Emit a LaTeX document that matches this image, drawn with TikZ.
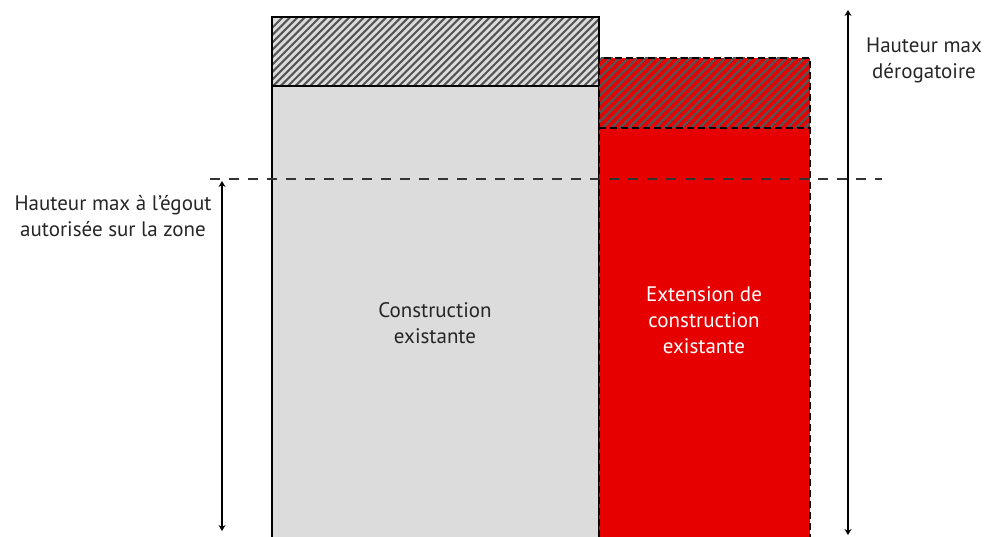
\documentclass[tikz,border=0pt]{standalone}
\usepackage{fontspec}
\setmainfont{PT Sans}
\usetikzlibrary{arrows.meta}
\definecolor{bggrey}{HTML}{DCDCDC}
\definecolor{extred}{HTML}{E60000}
\definecolor{hatchc}{HTML}{555555}
\tikzset{
  lbl/.style={align=center, font=\fontsize{21}{26}\selectfont, text=black!85},
  hatch/.style={draw=hatchc, line width=2.1pt},
  hatchred/.style={draw=hatchc, line width=2.3pt},
  dim/.style={draw=black, line width=1.2pt, {Stealth[length=6pt,width=7pt]}-{Stealth[length=6pt,width=7pt]}},
}
\begin{document}
\begin{tikzpicture}[x=1pt,y=-1pt]
\useasboundingbox (0,0) rectangle (984,537);
% grey building
\fill[bggrey] (272,17) rectangle (599,537);
\begin{scope}
  \clip (272,17) rectangle (599,86);
  \foreach \i in {0,...,80} { \draw[hatch] (200+\i*7.4,100) -- (290+\i*7.4,10); }
\end{scope}
\draw[line width=1.4pt] (272,537) -- (272,17) -- (599,17) -- (599,537);
\draw[line width=1.4pt] (272,86) -- (599,86);
% red extension
\fill[extred] (599,58) rectangle (810,537);
\begin{scope}
  \clip (599,58) rectangle (810,128);
  \foreach \i in {0,...,50} { \draw[hatchred] (520+\i*8.8,140) -- (610+\i*8.8,50); }
\end{scope}
\draw[line width=1.3pt, dash pattern=on 7pt off 4pt] (599,537) -- (599,58) -- (810,58) -- (810,537);
\draw[line width=1.3pt, dash pattern=on 7pt off 4pt] (599,128) -- (810,128);
% dashed level line
\coordinate (ls) at (210,179);
\coordinate (le) at (882,179);
\draw[line width=1.3pt, draw=black!80, dash pattern=on 10pt off 9pt] (ls) -- (le);
% dimension arrows
\coordinate (a1) at (222,181);
\coordinate (a2) at (222,531);
\draw[dim] (a1) -- (a2);
\coordinate (b1) at (848,10);
\coordinate (b2) at (848,535);
\draw[dim] (b1) -- (b2);
% labels
\node[lbl] (tl) at (113,216) {Hauteur max à l'égout\\autorisée sur la zone};
\node[lbl] (tr) at (924,60) {Hauteur max\\dérogatoire};
\node[lbl] (tc) at (435,323) {Construction\\existante};
\node[lbl, text=white] (te) at (704,320) {Extension de\\construction\\existante};
\end{tikzpicture}
\end{document}
